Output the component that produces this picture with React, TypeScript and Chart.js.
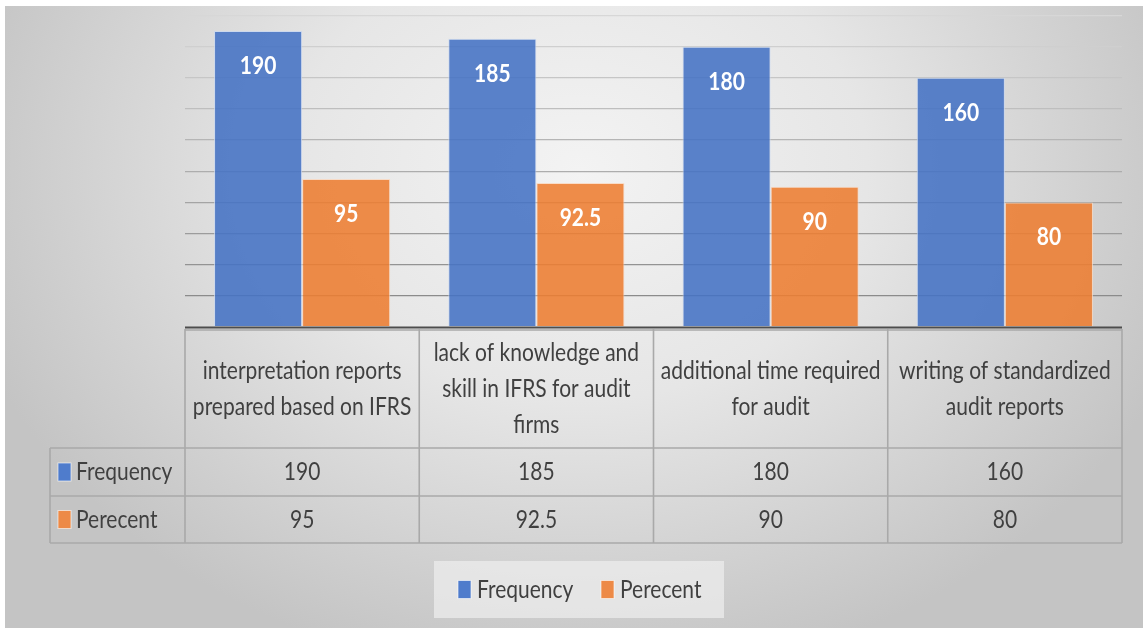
import { useEffect, useRef } from 'react';
import { Chart, registerables } from 'chart.js';

Chart.register(...registerables);

// ---- data ----
const categories: string[][] = [
  ['interpretation reports', 'prepared based on IFRS'],
  ['lack of knowledge and', 'skill in IFRS for audit', 'firms'],
  ['additional time required', 'for audit'],
  ['writing of standardized', 'audit reports'],
];
const seriesNames = ['Frequency', 'Perecent'];
const frequency = [190, 185, 180, 160];
const percent = [95, 92.5, 90, 80];
const yMax = 200;
const yStep = 20;

// ---- style ----
const BLUE = 'rgba(68,114,196,0.88)';
const ORANGE = 'rgba(237,125,49,0.88)';
const KEY_BLUE = '#4f7ccc';
const KEY_ORANGE = '#ed8a47';
const TEXT = '#404040';
const FONT = 'Lato, "Open Sans", sans-serif';
const SX = 0.84;

function drawText(
  ctx: CanvasRenderingContext2D,
  s: string,
  x: number,
  y: number,
  align: 'center' | 'left',
  font: string,
  color: string
) {
  ctx.save();
  ctx.font = font;
  ctx.fillStyle = color;
  ctx.textBaseline = 'middle';
  ctx.textAlign = 'left';
  const w = ctx.measureText(s).width * SX;
  const left = align === 'center' ? x - w / 2 : x;
  ctx.translate(left, y);
  ctx.scale(SX, 1);
  ctx.fillText(s, 0, 0);
  ctx.restore();
}

const decorPlugin = {
  id: 'decor',
  beforeDraw(chart: any) {
    const ctx: CanvasRenderingContext2D = chart.ctx;
    const W = chart.width;
    const H = chart.height;
    ctx.save();
    ctx.fillStyle = '#ffffff';
    ctx.fillRect(0, 0, W, H);
    // radial gray panel
    ctx.beginPath();
    ctx.rect(5, 6, W - 5, H - 8);
    ctx.clip();
    ctx.translate(580, 170);
    ctx.scale(1, 0.8);
    const g = ctx.createRadialGradient(0, 0, 0, 0, 0, 640);
    g.addColorStop(0, '#f3f3f3');
    g.addColorStop(0.45, '#e6e6e6');
    g.addColorStop(1, '#c4c4c4');
    ctx.fillStyle = g;
    ctx.fillRect(-700, -400, 1400, 1000);
    ctx.restore();
  },
  afterDatasetsDraw(chart: any) {
    const ctx: CanvasRenderingContext2D = chart.ctx;
    const area = chart.chartArea;
    const xs = chart.scales.x;
    const n = categories.length;
    const cw = (area.right - area.left) / n;
    const bottom = area.bottom;

    // data labels inside bars
    chart.data.datasets.forEach((ds: any, di: number) => {
      const meta = chart.getDatasetMeta(di);
      meta.data.forEach((bar: any, i: number) => {
        drawText(ctx, String(ds.data[i]), bar.x, bar.y + 35, 'center', `bold 25px ${FONT}`, '#ffffff');
      });
    });

    // table
    const headBottom = bottom + 121;
    const row1Bottom = bottom + 169;
    const row2Bottom = bottom + 216;
    const leftX = 50;

    ctx.save();
    ctx.strokeStyle = '#a9a9a9';
    ctx.lineWidth = 1.6;
    ctx.beginPath();
    for (let i = 0; i <= n; i++) {
      const x = area.left + i * cw;
      ctx.moveTo(x, bottom + 2);
      ctx.lineTo(x, row2Bottom);
    }
    [headBottom, row1Bottom, row2Bottom].forEach((y) => {
      ctx.moveTo(leftX, y);
      ctx.lineTo(area.right, y);
    });
    ctx.moveTo(area.left, bottom + 3);
    ctx.lineTo(area.right, bottom + 3);
    ctx.moveTo(leftX, headBottom);
    ctx.lineTo(leftX, row2Bottom);
    ctx.stroke();

    // axis baseline
    ctx.strokeStyle = '#4d4d4d';
    ctx.lineWidth = 2.2;
    ctx.beginPath();
    ctx.moveTo(area.left, bottom + 0.5);
    ctx.lineTo(area.right, bottom + 0.5);
    ctx.stroke();
    ctx.restore();

    const headMid = (bottom + 2 + headBottom) / 2;
    categories.forEach((lines, i) => {
      const cx = xs.getPixelForValue(i);
      const lh = 36;
      const y0 = headMid - ((lines.length - 1) * lh) / 2;
      lines.forEach((ln, k) => {
        drawText(ctx, ln, cx, y0 + k * lh, 'center', `25px ${FONT}`, TEXT);
      });
    });

    const rowMids = [(headBottom + row1Bottom) / 2, (row1Bottom + row2Bottom) / 2];
    const keyColors = [KEY_BLUE, KEY_ORANGE];
    chart.data.datasets.forEach((ds: any, di: number) => {
      const y = rowMids[di];
      ctx.save();
      ctx.fillStyle = keyColors[di];
      ctx.strokeStyle = 'rgba(255,255,255,0.6)';
      ctx.lineWidth = 1;
      ctx.fillRect(58, y - 9, 13, 18);
      ctx.strokeRect(58, y - 9, 13, 18);
      ctx.restore();
      drawText(ctx, ds.label, 76, y, 'left', `25px ${FONT}`, TEXT);
      ds.data.forEach((v: number, i: number) => {
        drawText(ctx, String(v), xs.getPixelForValue(i), y, 'center', `25px ${FONT}`, TEXT);
      });
    });

    // legend
    const lgTop = bottom + 234;
    const lgH = 57;
    const lgLeft = 434;
    const lgW = 290;
    ctx.save();
    ctx.fillStyle = 'rgba(236,236,236,0.75)';
    ctx.fillRect(lgLeft, lgTop, lgW, lgH);
    ctx.restore();
    const lgMid = lgTop + lgH / 2;
    const itemX = [lgLeft + 24, lgLeft + 167];
    chart.data.datasets.forEach((ds: any, di: number) => {
      ctx.save();
      ctx.fillStyle = keyColors[di];
      ctx.strokeStyle = 'rgba(255,255,255,0.6)';
      ctx.lineWidth = 1;
      ctx.fillRect(itemX[di], lgMid - 9, 13, 18);
      ctx.strokeRect(itemX[di], lgMid - 9, 13, 18);
      ctx.restore();
      drawText(ctx, ds.label, itemX[di] + 19, lgMid, 'left', `25px ${FONT}`, TEXT);
    });
  },
};

export default function App() {
  const ref = useRef<HTMLCanvasElement | null>(null);
  useEffect(() => {
    if (!ref.current) return;
    const chart = new Chart(ref.current, {
      type: 'bar',
      data: {
        labels: categories.map((c) => c.join(' ')),
        datasets: [
          {
            label: seriesNames[0],
            data: frequency,
            backgroundColor: BLUE,
            borderColor: 'rgba(200,215,240,0.8)',
            borderWidth: 1,
            categoryPercentage: 0.752,
            barPercentage: 1,
          },
          {
            label: seriesNames[1],
            data: percent,
            backgroundColor: ORANGE,
            borderColor: 'rgba(250,215,190,0.8)',
            borderWidth: 1,
            categoryPercentage: 0.752,
            barPercentage: 1,
          },
        ],
      },
      options: {
        animation: false,
        responsive: false,
        maintainAspectRatio: false,
        layout: { padding: { left: 185, right: 21, top: 15.5, bottom: 303 } },
        plugins: { legend: { display: false }, tooltip: { enabled: false } },
        scales: {
          x: { display: false },
          y: {
            min: 0,
            max: yMax,
            ticks: { display: false, stepSize: yStep },
            border: { display: false },
            grid: {
              drawTicks: false,
              lineWidth: 1.3,
              color: (c: any) => {
                const v = c.tick ? c.tick.value : 0;
                if (v === 0) return 'rgba(0,0,0,0)';
                const t = 1 - v / yMax;
                const g = Math.round(215 - t * 85);
                return `rgb(${g},${g},${g})`;
              },
            },
            afterFit: (s: any) => {
              s.width = 0;
            },
          },
        },
      },
      plugins: [decorPlugin],
    });
    return () => chart.destroy();
  }, []);
  return (
    <div style={{ position: 'fixed', left: 0, top: 0, width: 1143, height: 630 }}>
      <canvas ref={ref} width={1143} height={630} style={{ width: 1143, height: 630 }} />
    </div>
  );
}
